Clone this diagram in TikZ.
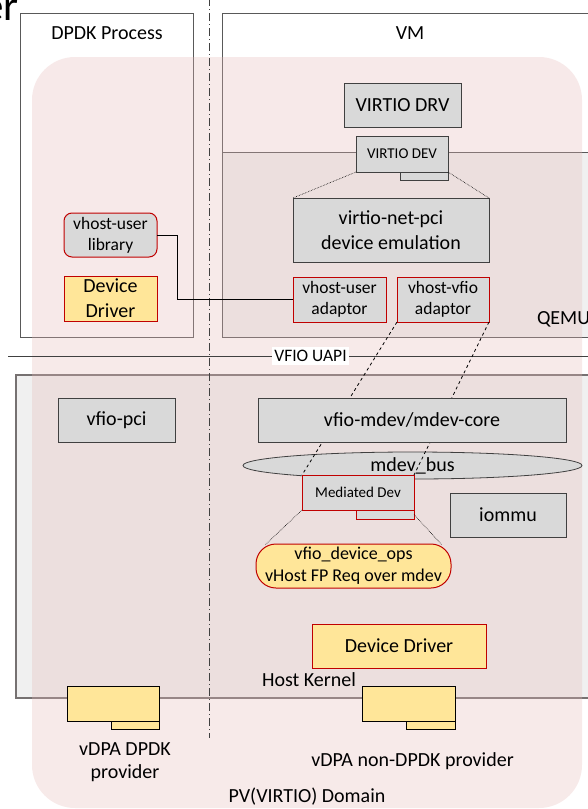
\documentclass[tikz,border=0pt]{standalone}
\usepackage{fontspec}
\setmainfont{Carlito}
\usetikzlibrary{shapes.geometric}
\definecolor{gfill}{HTML}{D9D9D9}
\definecolor{lineC}{HTML}{404040}
\definecolor{redC}{HTML}{C00000}
\definecolor{yelC}{HTML}{FFE699}
\definecolor{contC}{HTML}{595959}
\definecolor{hkC}{HTML}{767171}
\definecolor{pinkC}{HTML}{E6B8B7}
\definecolor{boxbg}{HTML}{F0F0F0}
\newcommand\fsXL{\fontsize{43}{50}\selectfont}
\newcommand\fsM{\fontsize{20}{24}\selectfont}
\newcommand\fsMM{\fontsize{20}{25}\selectfont}
\newcommand\fsN{\fontsize{17.5}{21}\selectfont}
\newcommand\fsO{\fontsize{18}{22}\selectfont}
\newcommand\fsS{\fontsize{15}{18}\selectfont}
\tikzset{
  base/.style={inner sep=0pt, outer sep=0pt, align=center, font=\fsM},
  gbox/.style={base, draw=lineC, line width=0.8pt, fill=gfill},
  rbox/.style={base, draw=redC, line width=1pt, fill=gfill},
  ybox/.style={base, draw=redC, line width=1pt, fill=yelC},
  tbox/.style={base, draw=black, line width=0.8pt, fill=yelC},
  cont/.style={base, draw=contC, line width=0.8pt},
  lbl/.style={inner sep=0pt, outer sep=0pt, align=center, font=\fsM},
  dotline/.style={densely dotted, line width=0.6pt, draw=black},
  dashline/.style={dashed, line width=0.8pt, draw=black},
}
\begin{document}
\begin{tikzpicture}[x=1pt,y=-1pt]
\useasboundingbox (0,0) rectangle (588,809);
% partial title
\node[inner sep=0pt, anchor=base east, font=\fsXL] (ttl) at (19,20) {er};
% containers
\node[cont, fill=white, minimum width=173pt, minimum height=324pt] (dpdk) at (106.5,175) {};
\node[cont, fill=white, minimum width=376pt, minimum height=324pt] (vm) at (410,175) {};
\node[cont, fill=boxbg, minimum width=376pt, minimum height=185pt] (qemu) at (410,244.5) {};
\node[base, draw=hkC, line width=1.5pt, fill=boxbg, minimum width=582pt, minimum height=323pt] (hostk) at (307,536.5) {};
% separator
\coordinate (sepT) at (209,-2);
\coordinate (sepB) at (209,738);
% PV domain overlay
\fill[pinkC, fill opacity=0.3, rounded corners=43pt] (32,57) rectangle (582,808);
\draw[line width=0.8pt, lineC, dash pattern=on 8pt off 3pt on 1pt off 3pt] (sepT) -- (sepB);
% labels of containers
\node[lbl] (dpdkT) at (107,33) {DPDK Process};
\node[lbl] (vmT) at (410,33) {VM};
\node[lbl, anchor=west] (qemuT) at (537,319) {QEMU};
\node[lbl] (hkT) at (309,680) {Host Kernel};
% VFIO UAPI
\coordinate (uapiL) at (8,356);
\coordinate (uapiR) at (600,356);
\draw[line width=0.8pt, lineC] (uapiL) -- (uapiR);
\node[lbl, fill=white, font=\fsN, inner xsep=2pt, inner ysep=3pt] (uapi) at (310.5,356) {VFIO UAPI};
% VM / QEMU nodes
\node[gbox, minimum width=117pt, minimum height=44pt] (drv) at (402.5,105) {VIRTIO DRV};
\node[gbox, minimum width=48pt, minimum height=8pt] (devtab) at (424,176) {};
\node[gbox, font=\fsS, minimum width=92pt, minimum height=36pt] (dev) at (402,154) {VIRTIO DEV};
\node[gbox, font=\fsMM, minimum width=196pt, minimum height=64pt] (vnp) at (391,230) {virtio-net-pci\\device emulation};
\node[rbox, font=\fsN, minimum width=93pt, minimum height=45pt] (vua) at (339.5,299.5) {vhost-user\\adaptor};
\node[rbox, font=\fsN, minimum width=92pt, minimum height=45pt] (vva) at (443,299.5) {vhost-vfio\\adaptor};
\draw[dotline] (dev.south west) -- (vnp.north west);
\draw[dotline] (dev.south east) -- (vnp.north east);
% DPDK process nodes
\node[rbox, rounded corners=8pt, font=\fsN, minimum width=93pt, minimum height=44pt] (vul) at (110.5,235) {vhost-user\\library};
\node[ybox, font=\fsMM, minimum width=93pt, minimum height=45pt] (dd1) at (110.5,298.5) {Device\\Driver};
\draw[line width=0.8pt, black] (vul.east) -- ++(20,0) |- (vua.west);
% Host kernel nodes
\node[gbox, minimum width=117pt, minimum height=44pt] (vfiopci) at (116.5,420) {vfio-pci};
\node[ellipse, draw=lineC, line width=0.8pt, fill=gfill, inner sep=0pt, minimum width=339pt, minimum height=27pt, font=\fsM] (bus) at (412.5,465.5) {mdev\_bus};
\node[rbox, minimum width=58pt, minimum height=9pt] (medtab) at (385,514.5) {};
\node[rbox, font=\fsS, minimum width=112pt, minimum height=35pt] (med) at (358,492.5) {Mediated Dev};
\draw[dashline] (vva.south west) -- (med.north west);
\draw[dashline] (vva.south east) -- (med.north east);
\node[gbox, minimum width=308pt, minimum height=44pt] (mdevcore) at (412,420) {vfio-mdev/mdev-core};
\node[gbox, minimum width=116pt, minimum height=44pt] (iommu) at (508,515) {iommu};
\node[ybox, rounded corners=20pt, font=\fsO, minimum width=195pt, minimum height=44pt] (ops) at (353.5,566) {vfio\_device\_ops\\vHost FP Req over mdev};
\draw[dotline] (med.south west) -- ([xshift=9pt,yshift=-1pt]ops.north west);
\draw[dotline] (medtab.east) -- ([xshift=-9pt,yshift=-1pt]ops.north east);
\node[ybox, minimum width=174pt, minimum height=44pt] (dd2) at (399,646) {Device Driver};
% providers
\node[tbox, minimum width=48pt, minimum height=8pt] (p1tab) at (135,725) {};
\node[tbox, minimum width=92pt, minimum height=35pt] (p1) at (113,703.5) {};
\node[tbox, minimum width=49pt, minimum height=8pt] (p2tab) at (430.5,725) {};
\node[tbox, minimum width=93pt, minimum height=35pt] (p2) at (408.5,703.5) {};
\node[lbl, font=\fontsize{20}{23}\selectfont] (p1T) at (125,762) {vDPA DPDK\\provider};
\node[lbl] (p2T) at (412.5,761) {vDPA non-DPDK provider};
\node[lbl] (pvT) at (307,797) {PV(VIRTIO) Domain};
\end{tikzpicture}
\end{document}
